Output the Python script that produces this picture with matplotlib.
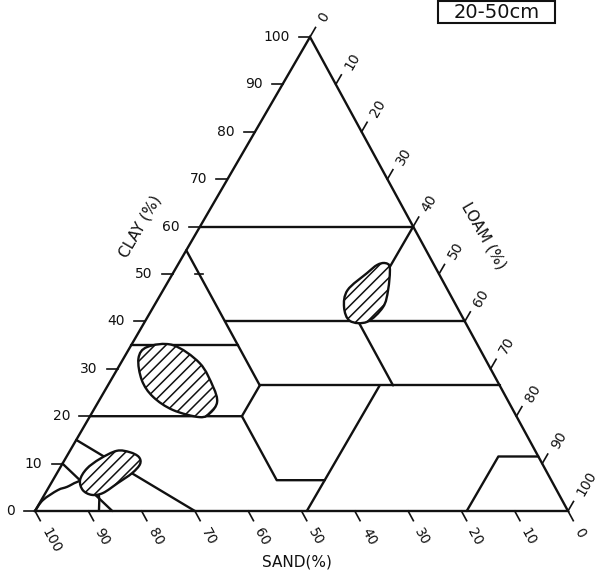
import numpy as np
import matplotlib
matplotlib.use("Agg")
import matplotlib.pyplot as plt
from matplotlib.path import Path
from matplotlib.patches import PathPatch, Rectangle

W, H = 609, 579
# page placement of the triangle (pixels): sand-100 corner, base length, height, apex shift
ORIGIN = (35.0, 511.0)
SX, SY = 533.0, 474.0
SKEW = 275.0 / 533.0

# axis scales
clay_ticks = list(range(0, 101, 10))
sand_ticks = list(range(0, 101, 10))
loam_ticks = list(range(0, 101, 10))

# texture class boundaries, polylines of (sand %, clay %)
boundaries = [
    [(40, 60), (0, 60)],
    [(0, 60), (20, 40)],
    [(45, 40), (0, 40)],
    [(20, 40), (20, 26.5)],
    [(45, 55), (45, 26.5)],
    [(65, 35), (45, 35)],
    [(45, 26.5), (0, 26.5)],
    [(45, 26.5), (51.5, 20)],
    [(80, 20), (51.5, 20), (51.5, 6.5), (42.5, 6.5)],
    [(49, 0), (22.5, 26.5)],
    [(19, 0), (7.5, 11.5), (0, 11.5)],
    [(85, 15), (70, 0)],
    [(90, 10), (85.5, 0)],
]
# short cross mark on the sand-45 boundary (sand %, clay %)
marks = [(45, 50)]

# curved boundary at the sandy corner (sand %, clay %)
sand_arc = [(100, 0), (97.4, 2.3), (93.6, 4.4), (91.5, 5.1), (89.2, 6.1),
            (87.0, 6.6), (86.3, 3.8), (88.0, 0)]

# observed sample ranges (hatched), outlines in (sand %, clay %)
range_a = [(9.0, 52.3), (8.6, 51.3), (11.2, 46.6), (13.9, 43.0), (18.4, 39.9),
           (21.5, 40.1), (21.2, 43.0), (18.8, 46.6), (13.4, 50.2), (10.7, 51.9)]
range_b = [(62.2, 34.6), (57.2, 35.0), (54.0, 31.2), (53.9, 26.2), (54.7, 23.0),
           (57.1, 20.7), (59.5, 19.8), (63.8, 21.3), (66.2, 24.1), (66.6, 27.6), (65.0, 32.2)]
range_c = [(78.5, 12.7), (76.2, 12.4), (75.0, 11.4), (75.5, 9.9), (77.9, 8.0),
           (81.6, 5.9), (85.4, 3.8), (87.7, 3.4), (88.9, 4.4), (88.4, 6.5),
           (86.0, 8.9), (82.5, 11.0)]

depth_label = "20-50cm"

INK = "#111111"
plt.rcParams["font.family"] = ["DejaVu Sans"]
plt.rcParams["hatch.linewidth"] = 1.1


def tern(sand, clay):
    loam = 100.0 - sand - clay
    return np.array([loam / 100.0 + SKEW * clay / 100.0, clay / 100.0])


def shift(p, dx, dy):
    """Move a data point by a screen offset in pixels (dy downward)."""
    return np.array([p[0] + dx / SX, p[1] - dy / SY])


def smooth_path(pts, closed):
    P = np.array([tern(s, c) for s, c in pts])
    if closed:
        ext = np.vstack([P[-1], P, P[0], P[1]])
    else:
        ext = np.vstack([P[0], P, P[-1]])
    verts = [ext[1]]
    codes = [Path.MOVETO]
    for i in range(1, len(ext) - 2):
        p0, p1, p2, p3 = ext[i - 1], ext[i], ext[i + 1], ext[i + 2]
        verts += [p1 + (p2 - p0) / 6.0, p2 - (p3 - p1) / 6.0, p2]
        codes += [Path.CURVE4] * 3
    if closed:
        verts.append(ext[1])
        codes.append(Path.CLOSEPOLY)
    return Path(verts, codes)


fig = plt.figure(figsize=(W / 100, H / 100), dpi=100)
ax = fig.add_axes([0, 0, 1, 1])
ax.set_xlim(-ORIGIN[0] / SX, (W - ORIGIN[0]) / SX)
ax.set_ylim(-(H - ORIGIN[1]) / SY, ORIGIN[1] / SY)
ax.axis("off")

LW = 1.7

# outer triangle
tri = np.array([tern(100, 0), tern(0, 0), tern(0, 100), tern(100, 0)])
ax.plot(tri[:, 0], tri[:, 1], color=INK, lw=LW, solid_joinstyle="miter", zorder=3)

# class boundaries
for line in boundaries:
    xy = np.array([tern(s, c) for s, c in line])
    ax.plot(xy[:, 0], xy[:, 1], color=INK, lw=LW, solid_capstyle="round", zorder=2)

for s, c in marks:
    p = tern(s, c)
    a, b = shift(p, -4, 0), shift(p, 4, 0)
    ax.plot([a[0], b[0]], [a[1], b[1]], color=INK, lw=1.2, zorder=2)

ax.add_patch(PathPatch(smooth_path(sand_arc, False), facecolor="none",
                       edgecolor=INK, lw=LW, zorder=2))

# hatched sample ranges
for outline in (range_a, range_b, range_c):
    ax.add_patch(PathPatch(smooth_path(outline, True), facecolor="white",
                           edgecolor=INK, lw=LW, hatch="///", zorder=4))

# tick directions on screen (dy downward)
bdir = np.array([258.0, 474.0]); bdir /= np.linalg.norm(bdir)
rdir = np.array([275.0, -474.0]); rdir /= np.linalg.norm(rdir)
TL = 11.0
FS = 10

for v in clay_ticks:
    p = tern(100 - v, v)
    q = shift(p, -TL, 0)
    ax.plot([p[0], q[0]], [p[1], q[1]], color=INK, lw=1.2, zorder=3)
    t = shift(p, -20, 0)
    ax.text(t[0], t[1], str(v), ha="right", va="center", fontsize=FS, color=INK)

for v in sand_ticks:
    p = tern(v, 0)
    q = shift(p, *(bdir * TL))
    ax.plot([p[0], q[0]], [p[1], q[1]], color=INK, lw=1.2, zorder=3)
    d = 20 + 4.4 * len(str(v))
    t = shift(p, *(bdir * d))
    ax.text(t[0], t[1], str(v), ha="center", va="center", rotation=-61,
            rotation_mode="anchor", fontsize=FS, color=INK)

for v in loam_ticks:
    p = tern(0, 100 - v)
    q = shift(p, *(rdir * TL))
    ax.plot([p[0], q[0]], [p[1], q[1]], color=INK, lw=1.2, zorder=3)
    d = 18 + 4.4 * len(str(v))
    t = shift(p, *(rdir * d + np.array([3.0, 0.0])))
    ax.text(t[0], t[1], str(v), ha="center", va="center", rotation=60,
            rotation_mode="anchor", fontsize=FS, color=INK)


def fig_xy(x, y):
    return x / W, 1 - y / H


fig.text(*fig_xy(140, 227), "CLAY (%)", rotation=60, ha="center", va="center",
         fontsize=11, color=INK)
fig.text(*fig_xy(484, 236), "LOAM (%)", rotation=-60, ha="center", va="center",
         fontsize=11, color=INK)
fig.text(*fig_xy(297, 562), "SAND(%)", ha="center", va="center", fontsize=11, color=INK)

# depth tag in the upper right corner
x0, y0 = fig_xy(438, 23)
x1, y1 = fig_xy(555, 1)
fig.patches.append(Rectangle((x0, y0), x1 - x0, y1 - y0, transform=fig.transFigure,
                             facecolor="none", edgecolor=INK, lw=1.5))
fig.text(*fig_xy(497, 12), depth_label, ha="center", va="center", fontsize=14, color=INK)

fig.savefig("out.png", dpi=100, facecolor="white")
